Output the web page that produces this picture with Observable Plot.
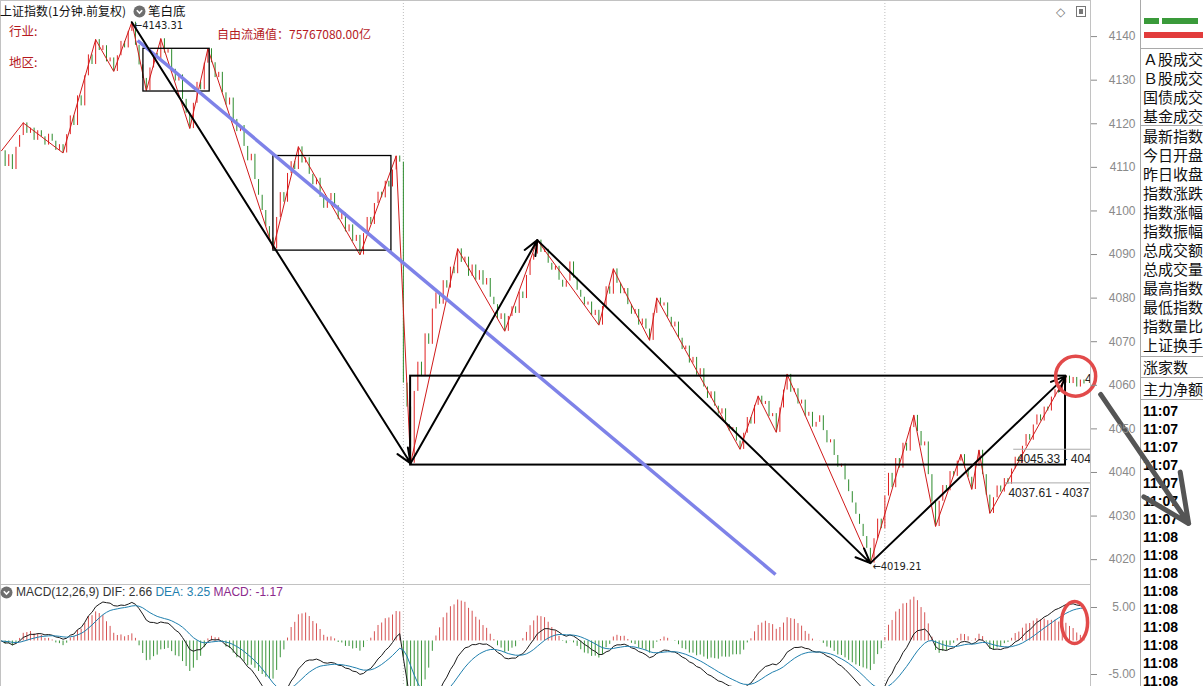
<!DOCTYPE html>
<html><head><meta charset="utf-8">
<script src="https://cdn.jsdelivr.net/npm/d3@7"></script>
<script src="https://cdn.jsdelivr.net/npm/@observablehq/plot@0.6"></script>
<style>
html,body{margin:0;padding:0;}
body{width:1203px;height:686px;overflow:hidden;position:relative;background:#fff;font-family:"Liberation Sans",Arial,sans-serif;}
.abs{position:absolute;white-space:nowrap;line-height:16px;}
.cjk{font-family:"Noto Sans CJK SC","Liberation Sans",sans-serif;}
#main{position:absolute;left:0;top:0;z-index:2;}
#macd{position:absolute;left:0;top:584px;z-index:2;}
#panel{position:absolute;left:1140px;top:0;width:63px;height:686px;overflow:hidden;border-left:1px solid #a9a9a9;z-index:1;background:#fff;}
#panel .sec{border-bottom:1px solid #a9a9a9;}
#panel .row{height:19px;line-height:19px;font-size:15px;white-space:nowrap;padding-left:2px;font-family:"Noto Sans CJK SC",sans-serif;color:#111;}
#panel .t{height:18px;line-height:18px;font-size:14px;font-weight:bold;padding-left:2px;color:#000;white-space:nowrap;}
</style></head>
<body>
<div id="panel"></div>
<div id="main"></div>
<div id="macd"></div>
<div class="abs cjk" style="left:0;top:3px;font-size:12px;color:#111;z-index:3">上证指数(1分钟.前复权)</div>
<svg class="abs" style="left:133px;top:5px;z-index:3" width="13" height="13"><circle cx="6.5" cy="6.5" r="6" fill="#6e6e6e"/><polyline points="3.8,5.2 6.5,8 9.2,5.2" fill="none" stroke="#fff" stroke-width="1.6"/></svg>
<div class="abs cjk" style="left:148px;top:3px;font-size:12.5px;color:#111;z-index:3">笔白底</div>
<div class="abs cjk" style="left:9px;top:23px;font-size:12.5px;color:#b5191e;z-index:3">行业:</div>
<div class="abs cjk" style="left:9px;top:54px;font-size:12.5px;color:#b5191e;z-index:3">地区:</div>
<div class="abs cjk" style="left:217px;top:26px;font-size:12px;color:#b5191e;z-index:3">自由流通值：75767080.00亿</div>
<div class="abs" style="left:1056px;top:4px;font-size:12px;color:#777;z-index:3">◇</div>
<svg class="abs" style="left:1076px;top:6px;z-index:3" width="10" height="11"><rect x="0.5" y="0.5" width="9" height="10" fill="#fff" stroke="#777"/><rect x="3" y="3" width="4" height="5" fill="#777"/></svg>
<svg class="abs" style="left:0;top:586px;z-index:3" width="13" height="13"><circle cx="6.5" cy="6.5" r="6" fill="#6e6e6e"/><polyline points="3.8,5.2 6.5,8 9.2,5.2" fill="none" stroke="#fff" stroke-width="1.6"/></svg>
<div class="abs" style="left:16px;top:584px;font-size:12px;z-index:3"><span style="color:#333">MACD(12,26,9) DIF: 2.66</span> <span style="color:#1f7fae">DEA: 3.25</span> <span style="color:#8c2a8c">MACD: -1.17</span></div>
<script>
// ---------- data ----------
const closes = [
4113.8,4110.2,4112.9,4109.5,4114.6,4117.3,4120.2,4117.8,4119.0,4116.2,
4118.4,4117.0,4115.1,4117.6,4116.0,4113.9,4115.2,4113.3,4117.5,4121.8,
4119.6,4126.4,4124.1,4131.0,4135.8,4133.6,4139.3,4136.8,4137.9,4134.2,
4135.1,4132.0,4135.6,4138.9,4137.4,4141.2,4143.3,4138.0,4133.5,4130.4,
4127.6,4132.8,4136.1,4134.9,4139.5,4136.2,4137.0,4132.5,4129.8,4131.2,
4125.6,4122.4,4118.9,4124.7,4129.5,4127.8,4133.9,4137.2,4134.0,4130.6,
4131.8,4127.1,4124.3,4125.9,4121.0,4118.2,4119.6,4114.8,4111.5,4113.0,
4107.2,4103.6,4100.1,4096.4,4093.8,4091.3,4098.5,4104.2,4102.0,4108.6,
4111.3,4109.5,4114.7,4111.0,4112.2,4108.4,4106.0,4107.5,4103.1,4100.6,
4102.4,4104.0,4101.2,4098.0,4099.5,4095.2,4096.8,4093.0,4094.4,4089.9,
4094.8,4098.5,4096.9,4101.7,4104.3,4103.0,4106.8,4105.5,4109.4,4112.6,
4111.2,4060.5,4055.0,4042.1,4058.6,4065.3,4062.0,4071.8,4069.4,4077.5,
4081.2,4078.6,4084.0,4082.3,4087.1,4085.6,4091.3,4088.2,4089.4,4085.0,
4087.6,4084.1,4086.3,4083.0,4084.5,4080.2,4078.5,4075.1,4076.4,4072.4,
4075.8,4078.0,4076.5,4081.4,4079.9,4085.2,4088.7,4090.1,4093.3,4090.5,
4091.2,4088.0,4086.4,4087.3,4084.1,4082.5,4083.9,4088.3,4084.6,4081.8,
4080.2,4078.4,4079.1,4076.0,4077.2,4073.8,4078.1,4082.6,4080.9,4086.7,
4083.4,4081.0,4082.2,4078.5,4076.3,4077.4,4073.8,4075.2,4072.9,4070.3,
4076.5,4080.0,4078.2,4078.9,4075.6,4073.4,4074.5,4070.8,4068.2,4069.0,
4065.1,4066.4,4062.3,4063.8,4059.6,4057.0,4058.5,4055.2,4053.4,4054.6,
4051.0,4049.5,4050.3,4047.2,4045.3,4049.0,4052.6,4051.1,4055.4,4057.5,
4055.6,4056.3,4052.8,4053.5,4049.2,4054.8,4058.9,4062.5,4058.4,4059.2,
4055.7,4056.6,4052.9,4053.8,4050.4,4051.5,4053.0,4049.6,4046.8,4047.5,
4043.9,4041.2,4041.9,4038.3,4035.6,4033.0,4030.4,4028.1,4025.3,4022.6,
4019.2,4024.8,4029.3,4027.1,4034.6,4039.8,4036.5,4043.2,4041.0,4046.7,
4044.9,4050.3,4053.1,4049.4,4046.1,4047.0,4039.5,4033.2,4027.6,4033.4,
4037.0,4035.8,4040.2,4039.1,4042.6,4044.1,4041.0,4038.9,4036.1,4041.4,
4045.1,4039.5,4034.8,4030.6,4034.2,4036.9,4035.5,4038.6,4037.3,4040.8,
4043.5,4042.1,4046.0,4048.7,4047.4,4050.9,4053.2,4051.8,4055.0,4054.1,
4057.3,4059.0,4058.2,4060.5,4062.1,4060.4,4061.8,4059.6,4061.2,4060.3
];
// 笔 (zigzag) pivots
const pivotIdx = [0,6,17,26,31,36,40,44,52,57,75,82,99,109,113,126,139,148,165,169,179,181,204,209,214,217,240,252,258,265,268,270,273,294];
const pivotPrice = [4113.8,4120.2,4113.3,4139.3,4132.0,4143.3,4127.6,4139.5,4118.9,4137.2,4091.3,4114.7,4089.9,4112.6,4042.1,4091.3,4072.4,4093.3,4073.8,4086.7,4070.3,4080.0,4045.3,4057.5,4049.2,4062.5,4019.2,4053.1,4027.6,4044.1,4036.1,4045.1,4030.6,4062.1];
const sepIdx = [111, 244];
// hand-drawn annotations
const arrowFromIdx = [36,113,148,240], arrowFromPrice = [4143.3,4042.1,4093.3,4019.2];
const arrowToIdx = [113,148,240,294], arrowToPrice = [4042.1,4093.3,4019.2,4062.1];
const boxFromIdx = [39.2,75.1,113.0], boxToIdx = [57.5,107.7,293.9];
const boxHigh = [4137.2,4112.6,4062.1], boxLow = [4127.4,4090.9,4041.7];
const trendIdx = [37.6,213.8], trendPrice = [4139.1,4016.6];
const bigArrowIdx = [303.6,327.9], bigArrowPrice = [4057.9,4028.3];
const circleIdx = [296.7], circlePrice = [4062.1];
const macdCircleIdx = [296.4], macdCircleValue = [2.76];
const priceLevels = [4045.33,4037.61], priceLevelFromIdx = [279.6,277.3];
const highIdx = 36, highLabel = "4143.31", lowIdx = 240, lowLabel = "4019.21";
const yTicks = [4020,4030,4040,4050,4060,4070,4080,4090,4100,4110,4120,4130,4140];
const macdTicks = [5,-5];
// right panel (as visible, clipped by the window edge)
const panelA = ["Ａ股成交","Ｂ股成交","国债成交","基金成交"];
const panelB = ["最新指数","今日开盘","昨日收盘","指数涨跌","指数涨幅","指数振幅","总成交额","总成交量","最高指数","最低指数","指数量比","上证换手"];
const panelC = ["涨家数"];
const panelD = ["主力净额"];
const panelTimes = ["11:07","11:07","11:07","11:07","11:07","11:07","11:07","11:08","11:08","11:08","11:08","11:08","11:08","11:08","11:08","11:08"];

// ---------- derived tables ----------
const bars = closes.map((c,i)=>({i, o: i ? closes[i-1] : c, c}));
const pivots = pivotIdx.map((i,k)=>({i, p: pivotPrice[k]}));
const arrows = arrowFromIdx.map((x,k)=>({x1:x, y1:arrowFromPrice[k], x2:arrowToIdx[k], y2:arrowToPrice[k]}));
const boxes = boxFromIdx.map((x,k)=>({x1:x, x2:boxToIdx[k], y1:boxLow[k], y2:boxHigh[k], k}));
const trend = [{x1:trendIdx[0], y1:trendPrice[0], x2:trendIdx[1], y2:trendPrice[1]}];
const bigArrow = [{x1:bigArrowIdx[0], y1:bigArrowPrice[0], x2:bigArrowIdx[1], y2:bigArrowPrice[1]}];
const circ = circleIdx.map((i,k)=>({i, p:circlePrice[k]}));
const levels = priceLevels.map((p,k)=>({p, s:priceLevelFromIdx[k], label:`${p.toFixed(2)} - ${p.toFixed(2)}`}));
const xDomain = [-0.28, 300.8];

// MACD(12,26,9) from closes
const a12 = 2/13, a26 = 2/27, a9 = 2/10;
let e12 = closes[0], e26 = closes[0], deaPrev = 0;
const macd = closes.map((c,i)=>{
  if (i>0){ e12 = a12*c + (1-a12)*e12; e26 = a26*c + (1-a26)*e26; }
  const dif = e12 - e26;
  deaPrev = i===0 ? dif : a9*dif + (1-a9)*deaPrev;
  return {i, dif, dea: deaPrev, h: 2*(dif-deaPrev)};
});

const fontStyle = {background:"transparent", overflow:"visible", color:"#888", fontFamily:"'Liberation Sans', Arial, sans-serif", fontSize:"12px"};

const mainPlot = Plot.plot({
  width:1203, height:584, marginLeft:0, marginRight:113, marginTop:0, marginBottom:0,
  style: fontStyle,
  color:{type:"identity"},
  x:{domain:xDomain, axis:null},
  y:{domain:[4014.3,4148.28]},
  marks:[
    Plot.frame({stroke:"#c2c2c2"}),
    Plot.ruleX(sepIdx, {stroke:"#bdbdbd", strokeDasharray:"1,2"}),
    Plot.ruleX(bars, {x:"i", y1:"o", y2:"c", stroke:d=>d.c>=d.o?"#e02020":"#2b8a2b", strokeWidth:1}),
    Plot.line(pivots, {x:"i", y:"p", stroke:"#d01a1a", strokeWidth:1}),
    Plot.rect(boxes.filter(d=>d.k<2), {x1:"x1", x2:"x2", y1:"y1", y2:"y2", fill:"none", stroke:"#000", strokeWidth:1.3}),
    Plot.rect(boxes.filter(d=>d.k===2), {x1:"x1", x2:"x2", y1:"y1", y2:"y2", fill:"none", stroke:"#000", strokeWidth:2}),
    Plot.link(trend, {x1:"x1", y1:"y1", x2:"x2", y2:"y2", stroke:"#7e82e8", strokeWidth:3.5}),
    Plot.arrow(arrows, {x1:"x1", y1:"y1", x2:"x2", y2:"y2", stroke:"#000", strokeWidth:2, headLength:12, headAngle:45}),
    Plot.ruleY(levels, {y:"p", x1:"s", x2:()=>xDomain[1], stroke:"#aaa", strokeWidth:1}),
    Plot.text(levels, {x:"s", y:"p", text:"label", dx:3, dy:10, textAnchor:"start", fill:"#222", clip:true}),
    Plot.text([{i:highIdx, p:pivotPrice[pivotIdx.indexOf(highIdx)]}], {x:"i", y:"p", text:()=>"←"+highLabel, dx:2, dy:3, textAnchor:"start", fill:"#222", fontFamily:"'DejaVu Sans Condensed', 'DejaVu Sans', sans-serif", fontSize:11}),
    Plot.text([{i:lowIdx, p:pivotPrice[pivotIdx.indexOf(lowIdx)]}], {x:"i", y:"p", text:()=>"←"+lowLabel, dx:2, dy:3, textAnchor:"start", fill:"#222", fontFamily:"'DejaVu Sans Condensed', 'DejaVu Sans', sans-serif", fontSize:11}),
    Plot.text([{i:closes.length-1, p:closes[closes.length-1]}], {x:"i", y:"p", text:d=>d.p.toFixed(2), dx:1, dy:-5, textAnchor:"start", fill:"#222", clip:true}),
    Plot.dot(circ, {x:"i", y:"p", r:20, stroke:"#e24a4a", strokeWidth:3.5, fill:"none"}),
    Plot.arrow(bigArrow, {x1:"x1", y1:"y1", x2:"x2", y2:"y2", stroke:"#555", strokeWidth:5, headLength:26, headAngle:50}),
    Plot.axisY(yTicks, {anchor:"right", tickSize:6, tickPadding:39, textAnchor:"end", color:"#8a8a8a", tickFormat:d=>String(d), label:null})
  ]
});
document.getElementById("main").appendChild(mainPlot);

const macdPlot = Plot.plot({
  width:1203, height:102, marginLeft:0, marginRight:113, marginTop:0, marginBottom:0,
  style: fontStyle,
  color:{type:"identity"},
  x:{domain:xDomain, axis:null},
  y:{domain:[-6.79,8.43]},
  marks:[
    Plot.frame({stroke:"#c2c2c2"}),
    Plot.ruleX(sepIdx, {stroke:"#bdbdbd", strokeDasharray:"1,2"}),
    Plot.ruleX(macd, {x:"i", y1:()=>0, y2:"h", stroke:d=>d.h>=0?"#d65454":"#3a943a", strokeWidth:1, clip:true}),
    Plot.line(macd, {x:"i", y:"dif", stroke:"#1a1a1a", strokeWidth:1, clip:true}),
    Plot.line(macd, {x:"i", y:"dea", stroke:"#1f7fae", strokeWidth:1, clip:true}),
    Plot.dot(macdCircleIdx.map((i,k)=>({i, v:macdCircleValue[k]})), {x:"i", y:"v", r:21, stroke:"#e24a4a", strokeWidth:3.5, fill:"none"}),
    Plot.axisY(macdTicks, {anchor:"right", tickSize:6, tickPadding:39, textAnchor:"end", color:"#8a8a8a", tickFormat:d=>d.toFixed(2), label:null})
  ]
});
document.getElementById("macd").appendChild(macdPlot);
// squeeze the MACD ring into an oval
macdPlot.querySelectorAll("circle").forEach(c=>{
  if (c.getAttribute("cx")===null) return;
  const cx = +c.getAttribute("cx"), cy = +c.getAttribute("cy");
  c.setAttribute("transform", `translate(${cx},${cy}) scale(0.62,1) translate(${-cx},${-cy})`);
  c.setAttribute("vector-effect","non-scaling-stroke");
});

// right panel
const panel = document.getElementById("panel");
function sec(rows, cls, h, extra){
  const s = document.createElement("div"); s.className = "sec";
  if (extra) s.style.paddingBottom = extra + "px";
  rows.forEach(t=>{ const r=document.createElement("div"); r.className=cls; if(h) r.style.height=r.style.lineHeight=h+"px"; r.textContent=t; s.appendChild(r); });
  panel.appendChild(s); return s;
}
const topSec = document.createElement("div"); topSec.className="sec"; topSec.style.height="48px"; topSec.style.position="relative";
topSec.innerHTML = '<div style="position:absolute;left:3px;top:18px;width:15px;height:6px;background:#3a9a3a"></div><div style="position:absolute;left:21px;top:18px;width:36px;height:6px;background:#3a9a3a"></div><div style="position:absolute;left:3px;top:32px;width:70px;height:6px;background:#e23c3c"></div>';
panel.appendChild(topSec);
sec(panelA, "row");
sec(panelB, "row", 19, 2);
sec(panelC, "row", 20);
sec(panelD, "row", 21);
const tdiv = document.createElement("div"); tdiv.style.paddingTop = "2px";
panelTimes.forEach(t=>{ const r=document.createElement("div"); r.className="t"; r.textContent=t; tdiv.appendChild(r); });
panel.appendChild(tdiv);
</script>
</body></html>
